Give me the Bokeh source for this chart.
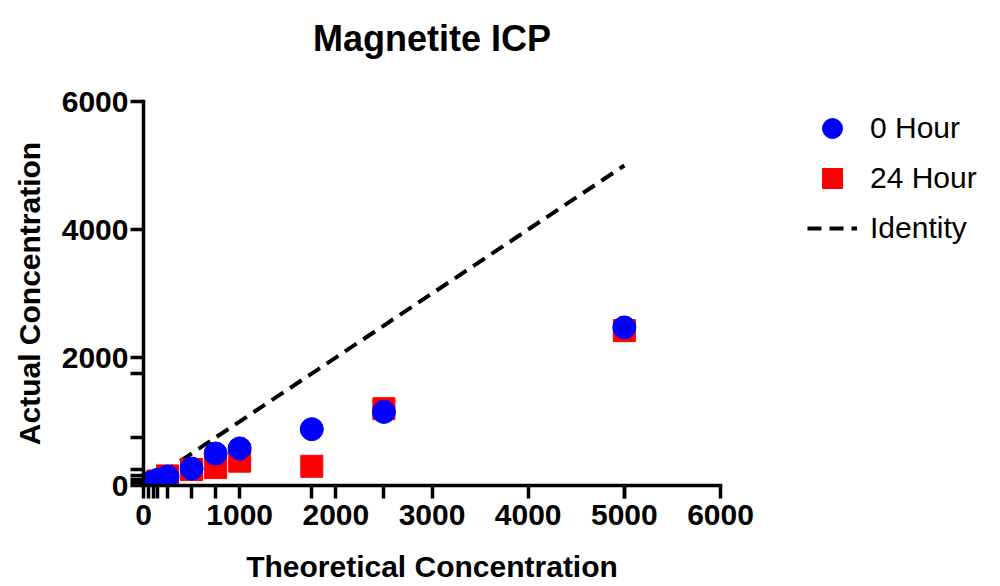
from bokeh.plotting import figure
from bokeh.models import FixedTicker, Legend, LegendItem, Range1d, Title
from bokeh.embed import file_html
from bokeh.resources import INLINE

# ---- data ----
theoretical = [50, 100, 150, 250, 500, 750, 1000, 1750, 2500, 5000]
hour0 = [30, 60, 90, 140, 265, 500, 580, 880, 1150, 2470]
hour24 = [20, 40, 70, 150, 250, 280, 380, 300, 1200, 2420]
identity_x = [0, 5000]
identity_y = [0, 5000]

x_major = [0, 1000, 2000, 3000, 4000, 5000, 6000]
y_major = [0, 2000, 4000, 6000]
x_minor = [50, 100, 150, 250, 500, 750, 1750, 2500, 5000]
y_minor = [50, 100, 150, 250, 750, 1750]

TITLE = "Magnetite ICP"
FONT = "Liberation Sans"

p = figure(
    frame_width=577, frame_height=384,
    min_border_left=143, min_border_right=272,
    min_border_top=101, min_border_bottom=96,
    x_range=Range1d(0, 6000), y_range=Range1d(0, 6000),
    output_backend="svg", toolbar_location=None,
    title=TITLE,
)
p.outline_line_color = None
p.xgrid.visible = False
p.ygrid.visible = False
p.background_fill_color = "white"
p.border_fill_color = "white"

p.title.text_font = FONT
p.title.text_font_size = "36px"
p.title.text_font_style = "bold"
p.title.align = "center"
p.title.text_color = "black"
p.title.standoff = 10

# blank spacer between the title and the plot area
p.add_layout(Title(text=" ", text_font_size="20px", standoff=14), "above")

for ax, major, minor, label in (
    (p.xaxis[0], x_major, x_minor, "Theoretical Concentration"),
    (p.yaxis[0], y_major, y_minor, "Actual Concentration"),
):
    ax.ticker = FixedTicker(ticks=major, minor_ticks=minor)
    ax.axis_label = label
    ax.axis_label_text_font = FONT
    ax.axis_label_text_font_size = "30px"
    ax.axis_label_text_font_style = "bold"
    ax.axis_label_text_color = "black"
    ax.major_label_text_font = FONT
    ax.major_label_text_font_size = "30px"
    ax.major_label_text_font_style = "bold"
    ax.major_label_text_color = "black"
    ax.axis_line_width = 3.5
    ax.axis_line_color = "black"
    ax.axis_line_cap = "square"
    ax.major_tick_line_width = 3.5
    ax.minor_tick_line_width = 3.5
    ax.major_tick_line_color = "black"
    ax.minor_tick_line_color = "black"
    ax.major_tick_out = 13
    ax.major_tick_in = 0
    ax.minor_tick_out = 13
    ax.minor_tick_in = 0

p.xaxis[0].major_label_standoff = 6
p.xaxis[0].axis_label_standoff = 22
p.yaxis[0].major_label_standoff = 2
p.yaxis[0].axis_label_standoff = 13

line_r = p.line(identity_x, identity_y, line_color="black", line_width=4,
                line_dash="14 8")
sq_r = p.scatter(theoretical, hour24, marker="square", size=22,
                 fill_color="#ff0000", line_color="#ff0000")
ci_r = p.scatter(theoretical, hour0, marker="circle", size=23,
                 fill_color="#0000ff", line_color="#0000ff")

legend = Legend(
    items=[
        LegendItem(label="0 Hour", renderers=[ci_r]),
        LegendItem(label="24 Hour", renderers=[sq_r]),
        LegendItem(label="Identity", renderers=[line_r]),
    ],
    location=(87, 232),
    glyph_width=50, glyph_height=50, spacing=0, padding=0, margin=0,
    label_standoff=13,
    label_text_font=FONT, label_text_font_size="30px",
    label_text_color="black",
    border_line_color=None, background_fill_alpha=0,
)
p.add_layout(legend, "right")

open("out.html", "w").write(file_html(p, INLINE))
